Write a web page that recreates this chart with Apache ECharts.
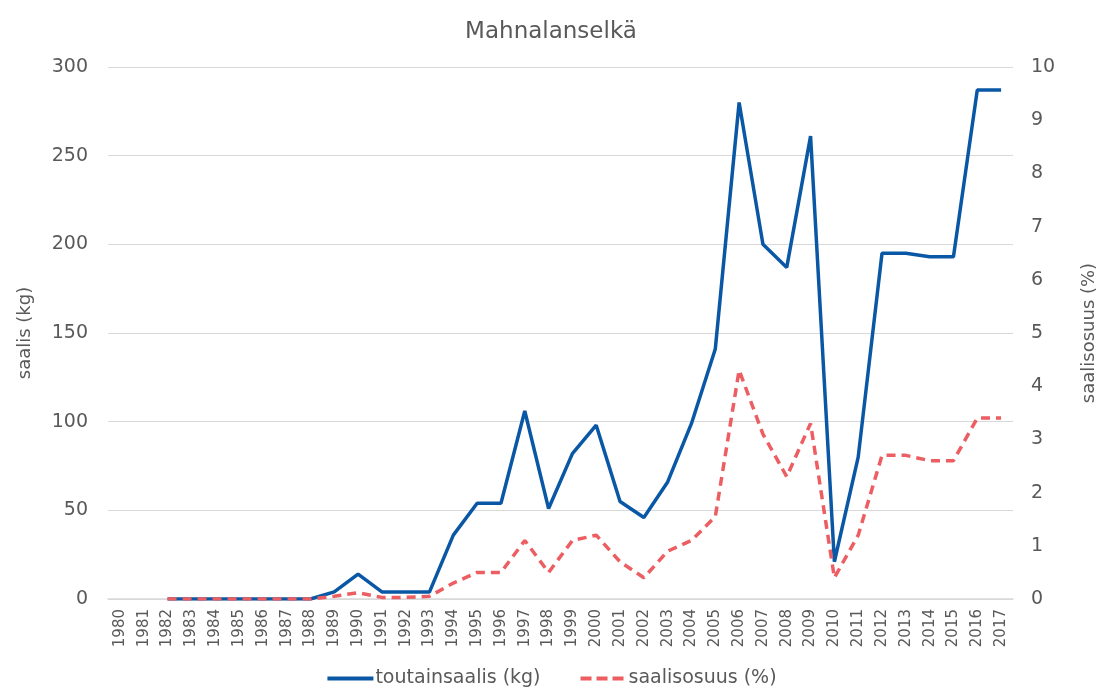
<!DOCTYPE html>
<html>
<head>
<meta charset="utf-8">
<script src="https://cdn.jsdelivr.net/npm/echarts@6/dist/echarts.min.js"></script>
<style>
  html, body { margin: 0; padding: 0; background: #fff; }
  #chart { width: 1102px; height: 695px; }
</style>
</head>
<body>
<div id="chart"></div>
<script>
// vuodet
const years = [];
for (let y = 1980; y <= 2017; y++) years.push(String(y));

// toutainsaalis (kg), 1980-2017
const saalisKg = [
  null, null, 0, 0, 0, 0, 0, 0, 0, 4,
  14, 4, 4, 4, 36, 54, 54, 106, 51, 82,
  98, 55, 46, 66, 99, 141, 280, 200, 187, 261,
  21, 80, 195, 195, 193, 193, 287, 287
];

// saalisosuus (%), 1980-2017
const osuus = [
  null, null, 0, 0, 0, 0, 0, 0, 0, 0.05,
  0.12, 0.03, 0.03, 0.05, 0.3, 0.5, 0.5, 1.1, 0.5, 1.1,
  1.2, 0.7, 0.4, 0.9, 1.1, 1.55, 4.3, 3.1, 2.3, 3.3,
  0.4, 1.2, 2.7, 2.7, 2.6, 2.6, 3.4, 3.4
];

const grey = '#595959';
const blue = '#0A58A5';
const red = '#EC5E62';
const font = '"DejaVu Sans", sans-serif';

var myChart = echarts.init(document.getElementById('chart'));

var option = {
  animation: false,
  textStyle: { fontFamily: font },
  title: {
    text: 'Mahnalanselkä',
    left: 'center',
    top: 16,
    textStyle: { color: grey, fontSize: 23, fontWeight: 'normal', fontFamily: font }
  },
  grid: { left: 108, right: 89, top: 67, bottom: 96, containLabel: false, outerBoundsMode: 'none' },
  legend: {
    bottom: 2,
    left: 'center',
    itemWidth: 46,
    itemHeight: 14,
    itemGap: 38,
    itemStyle: { opacity: 0 },
    textStyle: { color: grey, fontSize: 19, padding: [0, 0, 0, -3] },
    data: [
      { name: 'toutainsaalis (kg)', lineStyle: { color: blue, width: 4 } },
      { name: 'saalisosuus (%)', lineStyle: { color: red, width: 4, type: [11, 5] } }
    ]
  },
  xAxis: {
    type: 'category',
    data: years,
    axisLine: { lineStyle: { color: '#d9d9d9', width: 1.5 } },
    axisTick: { show: false },
    axisLabel: { rotate: 90, color: grey, fontSize: 15, interval: 0, margin: 10 }
  },
  yAxis: [
    {
      type: 'value',
      min: 0, max: 300, interval: 50,
      name: 'saalis (kg)',
      nameLocation: 'middle',
      nameRotate: 90,
      nameGap: 74,
      nameTextStyle: { color: grey, fontSize: 18 },
      axisLabel: { color: grey, fontSize: 19, margin: 20 },
      splitLine: { lineStyle: { color: '#d9d9d9', width: 1.2 } },
      axisLine: { show: false },
      axisTick: { show: false }
    },
    {
      type: 'value',
      min: 0, max: 10, interval: 1,
      name: 'saalisosuus (%)',
      nameLocation: 'middle',
      nameRotate: 90,
      nameGap: 67,
      nameTextStyle: { color: grey, fontSize: 18 },
      axisLabel: { color: grey, fontSize: 19, margin: 18 },
      splitLine: { show: false },
      axisLine: { show: false },
      axisTick: { show: false }
    }
  ],
  series: [
    {
      name: 'toutainsaalis (kg)',
      type: 'line',
      yAxisIndex: 0,
      data: saalisKg,
      symbol: 'none',
      lineStyle: { color: blue, width: 3.5 },
      itemStyle: { color: blue }
    },
    {
      name: 'saalisosuus (%)',
      type: 'line',
      yAxisIndex: 1,
      data: osuus,
      symbol: 'none',
      lineStyle: { color: red, width: 3.5, type: [9, 6] },
      itemStyle: { color: red }
    }
  ]
};
myChart.setOption(option);
</script>
</body>
</html>
